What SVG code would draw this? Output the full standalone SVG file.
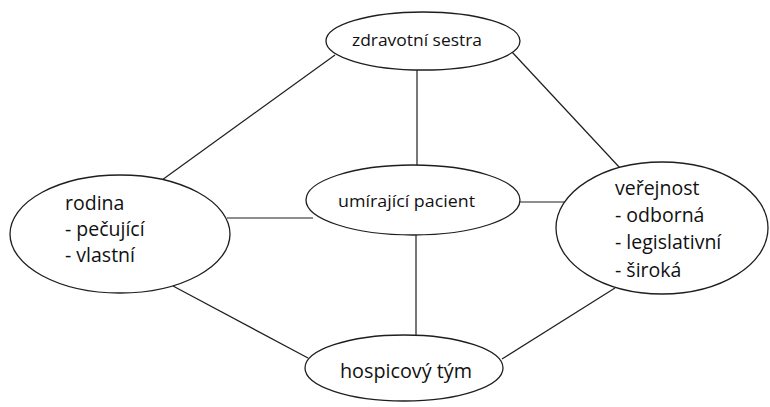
<svg xmlns="http://www.w3.org/2000/svg" width="770" height="407" viewBox="0 0 770 407">
<style>
.n{fill:#fff;stroke:#1e1e1e;stroke-width:1.3}
.c line{stroke:#1e1e1e;stroke-width:1.2}
text{font-family:"Open Sans","Noto Sans",sans-serif;fill:#111}
.s{font-size:15.5px}
.l{font-size:19.5px}
</style>
<rect width="770" height="407" fill="#fff"/>
<g class="c" id="connectors">
<line x1="335" y1="55" x2="162" y2="180"/>
<line x1="512" y1="52" x2="620" y2="168"/>
<line x1="417" y1="70" x2="417" y2="166"/>
<line x1="227" y1="218" x2="313" y2="218"/>
<line x1="520" y1="202" x2="568" y2="202"/>
<line x1="416" y1="235" x2="416" y2="335"/>
<line x1="173" y1="286" x2="308" y2="358"/>
<line x1="615" y1="288" x2="502" y2="359"/>
</g>
<g id="zdravotni-sestra">
<ellipse class="n" cx="423" cy="41" rx="97" ry="29"/>
<text class="s" x="352" y="46" textLength="130" lengthAdjust="spacingAndGlyphs">zdravotní sestra</text>
</g>
<g id="umirajici-pacient">
<ellipse class="n" cx="413" cy="200" rx="107" ry="35"/>
<text class="s" x="338" y="207" textLength="137" lengthAdjust="spacingAndGlyphs">umírající pacient</text>
</g>
<g id="rodina">
<ellipse class="n" cx="120" cy="234" rx="110" ry="59"/>
<text class="l" x="65" y="210">rodina</text>
<text class="l" x="65" y="236">- pečující</text>
<text class="l" x="65" y="262">- vlastní</text>
</g>
<g id="verejnost">
<ellipse class="n" cx="662" cy="228" rx="106" ry="66"/>
<text class="l" x="615" y="195">veřejnost</text>
<text class="l" x="615" y="222">- odborná</text>
<text class="l" x="615" y="249">- legislativní</text>
<text class="l" x="615" y="277">- široká</text>
</g>
<g id="hospicovy-tym">
<ellipse class="n" cx="404" cy="368" rx="99" ry="33"/>
<text class="l" x="340" y="378" textLength="132" lengthAdjust="spacingAndGlyphs">hospicový tým</text>
</g>
</svg>
